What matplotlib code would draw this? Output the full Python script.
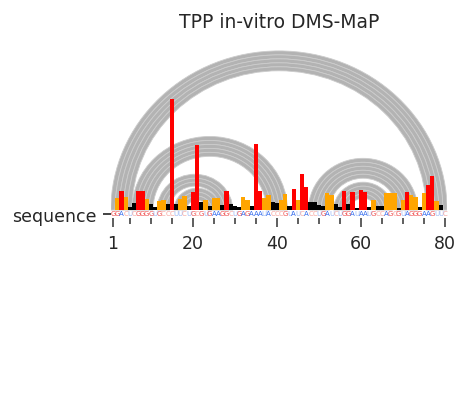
import numpy as np
import matplotlib
matplotlib.use("Agg")
import matplotlib.pyplot as plt
from matplotlib.patches import Wedge
from matplotlib import font_manager

title = "TPP in-vitro DMS-MaP"
sequence = "GGACUCGGGGUGCCCUUCUGCGUGAAGGCUGAGAAAUACCCGUAUCACCUGAUCUGGAUAAUGCCAGCGUAGGGAAGUUC"
nan = np.nan
reactivity = [
    nan, 0.55, 0.88, 0.62, 0.15, 0.32, 0.86, 0.88, 0.52, 0.28,
    0.15, 0.42, 0.45, 0.28, 5.12, 0.28, 0.52, 0.65, 0.18, 0.82,
    3.00, 0.37, 0.45, 0.18, 0.54, 0.54, 0.23, 0.88, 0.28, 0.18,
    0.14, 0.60, 0.46, 0.18, 3.05, 0.88, 0.55, 0.69, 0.37, 0.32,
    0.46, 0.74, 0.18, 0.97, 0.46, 1.66, 1.06, 0.37, 0.37, 0.23,
    0.18, 0.78, 0.69, 0.28, 0.14, 0.88, 0.28, 0.85, 0.09, 0.92,
    0.85, 0.14, 0.46, 0.18, 0.18, 0.78, 0.78, 0.78, 0.09, 0.46,
    0.85, 0.69, 0.62, 0.14, 0.78, 1.15, 1.57, 0.42, 0.23, nan,
]
pairs_p1 = [(1, 80), (2, 79), (3, 78), (4, 77), (5, 76)]
pairs_p2 = [(6, 42), (7, 41), (8, 40), (9, 39), (10, 38)]
pairs_p3 = [(12, 29), (13, 28), (14, 27), (16, 26), (17, 25), (18, 24)]
pairs_p4 = [(48, 73), (49, 72), (50, 71), (51, 70), (52, 69)]
pairs_p5 = [(54, 67), (55, 66), (56, 65), (57, 64)]
xticks_major = [1, 20, 40, 60, 80]
xticks_minor = [5, 10, 15, 25, 30, 35, 45, 50, 55, 65, 70, 75]

nt_colors = {"G": "#f04c4c", "A": "#366ef0", "C": "#f7a39c", "U": "#9bb8f5"}
bar_scale = 5.45

available = {f.name for f in font_manager.fontManager.ttflist}
if "Liberation Sans Narrow" in available:
    seq_font, seq_size = "Liberation Sans Narrow", 6.0
else:
    seq_font, seq_size = "DejaVu Sans", 5.0

fig = plt.figure(figsize=(4.70, 4.06), dpi=100)
ax = fig.add_axes([110.9 / 470, (406 - 219) / 406, 336.2 / 470, 183 / 406])

positions = np.arange(1, len(sequence) + 1)
vals = np.array(reactivity, dtype=float)

# arcs
for pairs in (pairs_p1, pairs_p2, pairs_p3, pairs_p4, pairs_p5):
    for i, j in pairs:
        c = (i + j) / 2
        r = (j - i) / 2 + 0.5
        w = Wedge((c, 0), r, 0, 180, width=1.0, facecolor="#b3b3b3",
                  edgecolor="#cccccc", lw=0.6, zorder=1)
        ax.add_patch(w)

# bars
colors = []
for v in vals:
    if np.isnan(v):
        colors.append("none")
    elif v < 0.4:
        colors.append("black")
    elif v < 0.8:
        colors.append("orange")
    else:
        colors.append("red")
heights = np.nan_to_num(vals) * bar_scale
ax.bar(positions, heights, width=1.0, color=colors, linewidth=0, zorder=2)

# sequence letters
for p, nt in zip(positions, sequence):
    ax.text(p, -0.05, nt, ha="center", va="top", fontsize=seq_size,
            family=seq_font, color=nt_colors[nt], zorder=3)

ax.set_xlim(0.5, 80.5)
ax.set_ylim(-2.0, 44.0)
for s in ax.spines.values():
    s.set_visible(False)
ax.set_xticks(xticks_major)
ax.set_xticklabels([str(t) for t in xticks_major])
ax.set_xticks(xticks_minor, minor=True)
ax.tick_params(axis="x", which="major", length=6.5, width=1.1, color="#333333",
               labelsize=12.5, labelcolor="#262626", pad=5)
ax.tick_params(axis="x", which="minor", length=4.3, width=1.1, color="#333333")
ax.set_yticks([-1.0])
ax.set_yticklabels(["sequence"])
ax.tick_params(axis="y", length=5.5, width=1.3, color="#333333",
               labelsize=12.5, labelcolor="#262626", pad=5)
ax.set_title(title, fontsize=13.5, color="#262626", pad=6)

fig.savefig("out.png", dpi=100)
